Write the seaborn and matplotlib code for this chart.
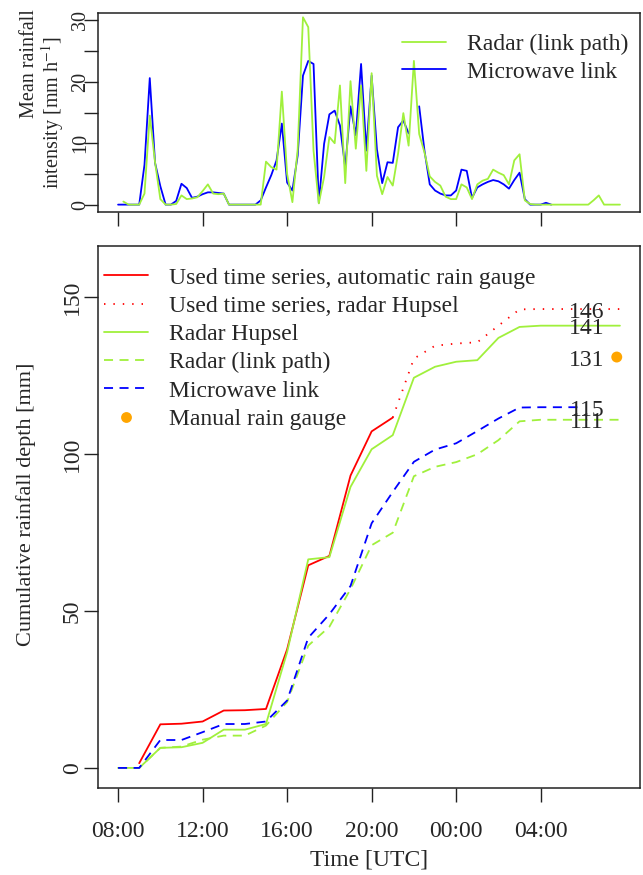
import numpy as np
import pandas as pd
import matplotlib
matplotlib.use("Agg")
import matplotlib.pyplot as plt
import matplotlib.transforms as mtransforms
import seaborn as sns
from matplotlib.lines import Line2D

# ---------------- data ----------------
# Top panel: 15-min mean rainfall intensity [mm/h]; time in hours after 08:00 UTC
link_time = [i * 0.25 for i in range(83)]
link_intensity = [0, 0, 0, 0, 0, 6.5, 20.6, 6.8, 3.0, 0,
                  0, 0.6, 3.4, 2.7, 1.1, 1.3, 1.7, 2.0, 2.0, 1.9,
                  1.8, 0, 0, 0, 0, 0, 0, 0.7, 2.8, 4.8,
                  7.2, 13.2, 3.6, 2.3, 8.0, 21.0, 23.4, 22.9, 0.3, 9.9,
                  14.7, 15.3, 12.9, 6.1, 16.0, 11.3, 22.9, 8.8, 21.0, 9.0,
                  3.5, 6.9, 6.8, 12.6, 13.7, 11.6, np.nan, 16.0, 8.8, 3.3,
                  2.3, 1.8, 1.5, 1.5, 2.3, 5.7, 5.5, 1.1, 2.8, 3.3,
                  3.7, 4.0, 3.8, 3.3, 2.6, 4.0, 5.2, 0.9, 0, 0,
                  0, 0.3, 0]
radar_path_time = [i * 0.25 for i in range(1, 96)]
radar_path_intensity = [0.5, 0, 0, 0, 1.8, 14.5, 6.9, 0.9, 0,
                        0, 0.1, 1.5, 0.9, 1.0, 1.2, 2.2, 3.3, 1.8, 1.7,
                        1.8, 0, 0, 0, 0, 0, 0, 0, 7.0, 6.1,
                        5.7, 18.4, 5.0, 0.4, 9.0, 30.5, 28.9, 8.8, 0.2, 4.5,
                        11.0, 10.0, 19.4, 3.5, 20.1, 9.1, 19.4, 5.5, 21.4, 4.7,
                        1.7, 4.5, 3.1, 8.3, 14.9, 9.6, 23.4, 11.5, 8.5, 4.6,
                        3.7, 3.1, 1.3, 0.9, 0.9, 3.3, 2.8, 0.9, 3.3, 3.9,
                        4.2, 5.7, 5.2, 4.8, 3.3, 7.2, 8.2, 0.7, 0.1, 0,
                        0, 0, 0, 0, 0, 0, 0, 0, 0, 0,
                        0.7, 1.5, 0, 0, 0, 0]

# Bottom panel: cumulative rainfall depth [mm], hourly (hours after 08:00 UTC)
gauge_time = [1, 2, 3, 4, 5, 6, 7, 8, 9, 10, 11, 12, 13]
gauge_cum = [1.5, 13.9, 14.1, 14.8, 18.3, 18.4, 18.8, 37.8, 64.6, 67.6, 93.2, 107.3, 111.7]
used_radar_time = [13, 14, 15, 16, 17, 18, 19, 20, 21, 22, 23, 23.75]
used_radar_cum = [111.7, 130.5, 134.6, 135.3, 135.7, 141.0, 146.2, 146.3, 146.3, 146.3, 146.3, 146.3]
hupsel_time = list(range(24)) + [23.75]
hupsel_cum = [0, 0, 6.4, 6.6, 8.0, 12.2, 12.2, 14.0, 36.9, 66.5, 67.2, 89.6, 101.6,
              106.1, 124.4, 127.9, 129.5, 130.0, 137.1, 140.6, 141.0, 141.0, 141.0, 141.0, 141.0]
radar_path_cum = [0, 0, 6.4, 6.8, 9.0, 10.3, 10.3, 13.5, 21.0, 39.0, 45.0, 57.0, 71.0,
                  75.0, 93.0, 96.0, 97.5, 100.0, 104.5, 110.5, 111.0, 111.0, 111.0, 111.0, 111.0]
link_cum_time = list(range(23))
link_cum = [0, 0, 8.9, 8.9, 11.4, 14.0, 14.0, 14.8, 21.5, 41.5, 49.0, 58.0, 78.0,
            88.0, 97.6, 101.5, 103.5, 107.4, 111.4, 114.9, 115.0, 115.0, 115.0]
manual_time = [23.6]
manual_total = [131]
end_labels = ["146", "141", "131", "115", "111"]
end_values = [146, 141, 131, 115, 111]

tick_hours = [0, 4, 8, 12, 16, 20]
tick_labels = ["08:00", "12:00", "16:00", "20:00", "00:00", "04:00"]

# ---------------- style ----------------
sns.set_style("ticks")
plt.rcParams["font.family"] = ["Liberation Serif", "DejaVu Serif"]
plt.rcParams["mathtext.fontset"] = "stix"

RED = "#FF0000"
GREEN = "#A0F03C"
BLUE = "#0000FF"
ORANGE = "#FFA500"
LW = 1.3
DASH = (0, (5.0, 3.6))
DOT = (0, (0.8, 4.4))

W, H = 643, 875
fig = plt.figure(figsize=(W / 100, H / 100), dpi=100)

def ax_rect(l, t, r, b):
    return [l / W, 1 - b / H, (r - l) / W, (b - t) / H]

ax1 = fig.add_axes(ax_rect(98, 13, 640, 212))
ax2 = fig.add_axes(ax_rect(98, 246, 640, 788))

XLIM = (-0.95, 24.70)

# ---- top panel ----
df_link = pd.DataFrame({"t": link_time, "v": link_intensity})
df_link["seg"] = df_link["v"].isna().cumsum()
for _, seg in df_link.dropna().groupby("seg"):
    sns.lineplot(data=seg, x="t", y="v", ax=ax1, color=BLUE, lw=LW,
                 estimator=None, sort=False)
df_rp = pd.DataFrame({"t": radar_path_time, "v": radar_path_intensity})
sns.lineplot(data=df_rp, x="t", y="v", ax=ax1, color=GREEN, lw=LW,
             estimator=None, sort=False)
ax1.set_xlim(*XLIM)
ax1.set_ylim(-1.2, 31.2)
ax1.set_xlabel("")
ax1.set_ylabel("")
ax1.set_xticks(tick_hours)
ax1.set_xticklabels([])
ax1.set_yticks([0, 5, 10, 15, 20, 25, 30])
ax1.set_yticklabels(["0", "", "10", "", "20", "", "30"], rotation=90, va="center")
ax1.tick_params(axis="both", length=10, width=1.0, color="#222222",
                labelsize=14.5)
ax1.tick_params(axis="y", pad=-4.5)

top_handles = [Line2D([], [], color=GREEN, lw=LW),
               Line2D([], [], color=BLUE, lw=LW)]
ax1.legend(top_handles, ["Radar (link path)", "Microwave link"],
           loc="upper left", bbox_to_anchor=(0.561, 0.898), frameon=False,
           fontsize=17, handlelength=1.86, handletextpad=0.9,
           labelspacing=0.27, borderpad=0, borderaxespad=0)

# ---- bottom panel ----
sns.lineplot(x=gauge_time, y=gauge_cum, ax=ax2, color=RED, lw=LW, estimator=None, sort=False)
sns.lineplot(x=used_radar_time, y=used_radar_cum, ax=ax2, color=RED, lw=LW,
             linestyle=DOT, estimator=None, sort=False)
sns.lineplot(x=hupsel_time, y=hupsel_cum, ax=ax2, color=GREEN, lw=LW, estimator=None, sort=False)
sns.lineplot(x=hupsel_time, y=radar_path_cum, ax=ax2, color=GREEN, lw=LW,
             linestyle=DASH, estimator=None, sort=False)
sns.lineplot(x=link_cum_time, y=link_cum, ax=ax2, color=BLUE, lw=LW,
             linestyle=DASH, estimator=None, sort=False)
sns.scatterplot(x=manual_time, y=manual_total, ax=ax2, color=ORANGE, s=62,
                edgecolor="none", zorder=5)
lab_tr = mtransforms.offset_copy(ax2.transData, fig=fig, x=0, y=-3, units="dots")
for lab, val in zip(end_labels, end_values):
    ax2.text(23.0, val, lab, ha="right", va="center", fontsize=17, transform=lab_tr)

ax2.set_xlim(*XLIM)
ax2.set_ylim(-6.4, 166.4)
ax2.set_xlabel("")
ax2.set_ylabel("")
ax2.set_xticks(tick_hours)
ax2.set_xticklabels(tick_labels)
ax2.set_yticks([0, 50, 100, 150])
ax2.set_yticklabels(["0", "50", "100", "150"], rotation=90, va="center")
ax2.tick_params(axis="both", length=10, width=1.0, color="#222222", labelsize=17)
ax2.tick_params(axis="x", pad=14)
ax2.tick_params(axis="y", pad=1)

bot_handles = [Line2D([], [], color=RED, lw=LW),
               Line2D([], [], color=RED, lw=LW, linestyle=DOT),
               Line2D([], [], color=GREEN, lw=LW),
               Line2D([], [], color=GREEN, lw=LW, linestyle=DASH),
               Line2D([], [], color=BLUE, lw=LW, linestyle=DASH),
               Line2D([], [], color=ORANGE, lw=0, marker="o", markersize=7.8,
                      markeredgewidth=0)]
bot_labels = ["Used time series, automatic rain gauge",
              "Used time series, radar Hupsel",
              "Radar Hupsel",
              "Radar (link path)",
              "Microwave link",
              "Manual rain gauge"]
ax2.legend(bot_handles, bot_labels, loc="upper left",
           bbox_to_anchor=(0.011, 0.961), frameon=False, fontsize=17,
           handlelength=1.86, handletextpad=0.9, labelspacing=0.284,
           borderpad=0, borderaxespad=0)

for ax in (ax1, ax2):
    for sp in ax.spines.values():
        sp.set_visible(True)
        sp.set_linewidth(1.1)
        sp.set_color("#222222")

# axis titles
fig.text(30 / W, 1 - 64 / H, "Mean rainfall", rotation=90, ha="center", va="center",
         fontsize=14.5)
fig.text(53 / W, 1 - 113 / H, "intensity [mm h$^{-1}$]", rotation=90, ha="center",
         va="center", fontsize=14.5)
fig.text(26 / W, 1 - 504 / H, "Cumulative rainfall depth [mm]", rotation=90,
         ha="center", va="center", fontsize=16)
fig.text(369 / W, 1 - 860 / H, "Time [UTC]", ha="center", va="center", fontsize=17)

fig.savefig("out.png", dpi=100)
